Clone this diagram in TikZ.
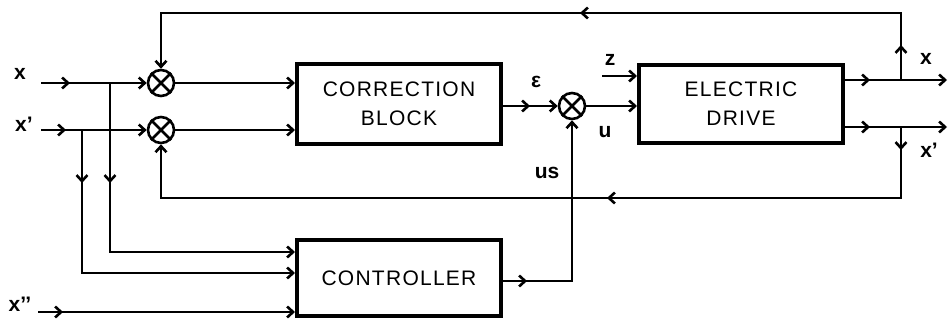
\documentclass[tikz,border=0pt]{standalone}
\usepackage{fontspec}
\setsansfont{Liberation Sans}
\newfontfamily\boxfont{Liberation Sans}[LetterSpace=6]
\usetikzlibrary{arrows.meta,decorations.markings}
\tikzset{every node/.style={font=\sffamily},line cap=round,line join=round}

\begin{document}
\begin{tikzpicture}[x=1pt,y=-1pt,
  >={Straight Barb[length=6pt,width=11pt,line width=2.6pt]},
  blk/.style={draw,line width=4pt,minimum width=204pt,align=center,inner sep=0pt,
    font=\boxfont\fontsize{21}{29}\selectfont},
  sum/.style={draw,circle,line width=2.6pt,minimum size=26pt,inner sep=0pt},
  lbl/.style={anchor=base,inner sep=0pt,font=\sffamily\bfseries\fontsize{21}{21}\selectfont},
  sig/.style={line width=2.5pt},
  midarr/.style={postaction={decorate,decoration={markings,mark=at position #1 with {\arrow{>}}}}}]
  \path[use as bounding box] (0,0) rectangle (948,320);
  \node[sum] (s1) at (161,83) {};
  \node[sum] (s2) at (161,130) {};
  \node[blk,minimum height=80pt] (corr) at (399,104) {CORRECTION\\BLOCK};
  \node[sum] (s3) at (572,106) {};
  \node[blk,minimum height=78pt] (drv) at (741,104) {ELECTRIC\\DRIVE};
  \node[blk,minimum height=76pt] (ctrl) at (399,278) {CONTROLLER};
  \foreach \s in {s1,s2,s3}
    \draw[line width=2.6pt] (\s.north west) -- (\s.south east) (\s.north east) -- (\s.south west);

  \coordinate (xin) at (41,83);
  \coordinate (xpin) at (41,130);
  \coordinate (xppin) at (38,312);
  \coordinate (brx) at (110,83);
  \coordinate (brxp) at (82,130);
  \coordinate (cin1) at (295,252);
  \coordinate (cin2) at (295,273);
  \coordinate (cin3) at (295,312);
  \coordinate (zin) at (602,76);
  \coordinate (tapx) at (901,80);
  \coordinate (tapxp) at (901,127);
  \coordinate (xout) at (947,80);
  \coordinate (xpout) at (947,127);
  \coordinate (fbtop) at (161,13);
  \coordinate (fbbot) at (161,198);

  \draw[sig,midarr=29pt,->] (xin) -- (s1);
  \draw[sig,midarr=25pt,->] (xpin) -- (s2);
  \draw[sig,->] (s1) -- (s1 -| corr.west);
  \draw[sig,->] (s2) -- (s2 -| corr.west);
  \draw[sig,midarr=27pt,->] (corr.east |- s3) -- (s3);
  \draw[sig,->] (s3) -- (s3 -| drv.west);
  \draw[sig,->] (zin) -- (zin -| drv.west);
  \draw[sig,midarr=25pt,->] (drv.east |- tapx) -- (xout);
  \draw[sig,midarr=25pt,->] (drv.east |- tapxp) -- (xpout);
  \draw[sig,midarr=35pt,midarr=388pt,->] (tapx) |- (fbtop) -- (s1);
  \draw[sig,midarr=23pt,midarr=365pt,->] (tapxp) |- (fbbot) -- (s2);
  \draw[sig,midarr=100pt,->] (brx) |- (cin1);
  \draw[sig,midarr=53pt,->] (brxp) |- (cin2);
  \draw[sig,midarr=25pt,->] (xppin) -- (cin3);
  \draw[sig,midarr=24pt,->] (ctrl.east |- 0,281) -| (s3);

  \node[lbl] (lx) at (20,80) {x};
  \node[lbl] (lxp) at (24,132) {x’};
  \node[lbl] (lxpp) at (20,312) {x’’};
  \node[lbl] (leps) at (536,88) {ε};
  \node[lbl] (lz) at (610,66) {z};
  \node[lbl] (lu) at (605,138) {u};
  \node[lbl] (lus) at (547,179) {us};
  \node[lbl] (lxo) at (926,65) {x};
  \node[lbl] (lxpo) at (929,158) {x’};
\end{tikzpicture}
\end{document}
